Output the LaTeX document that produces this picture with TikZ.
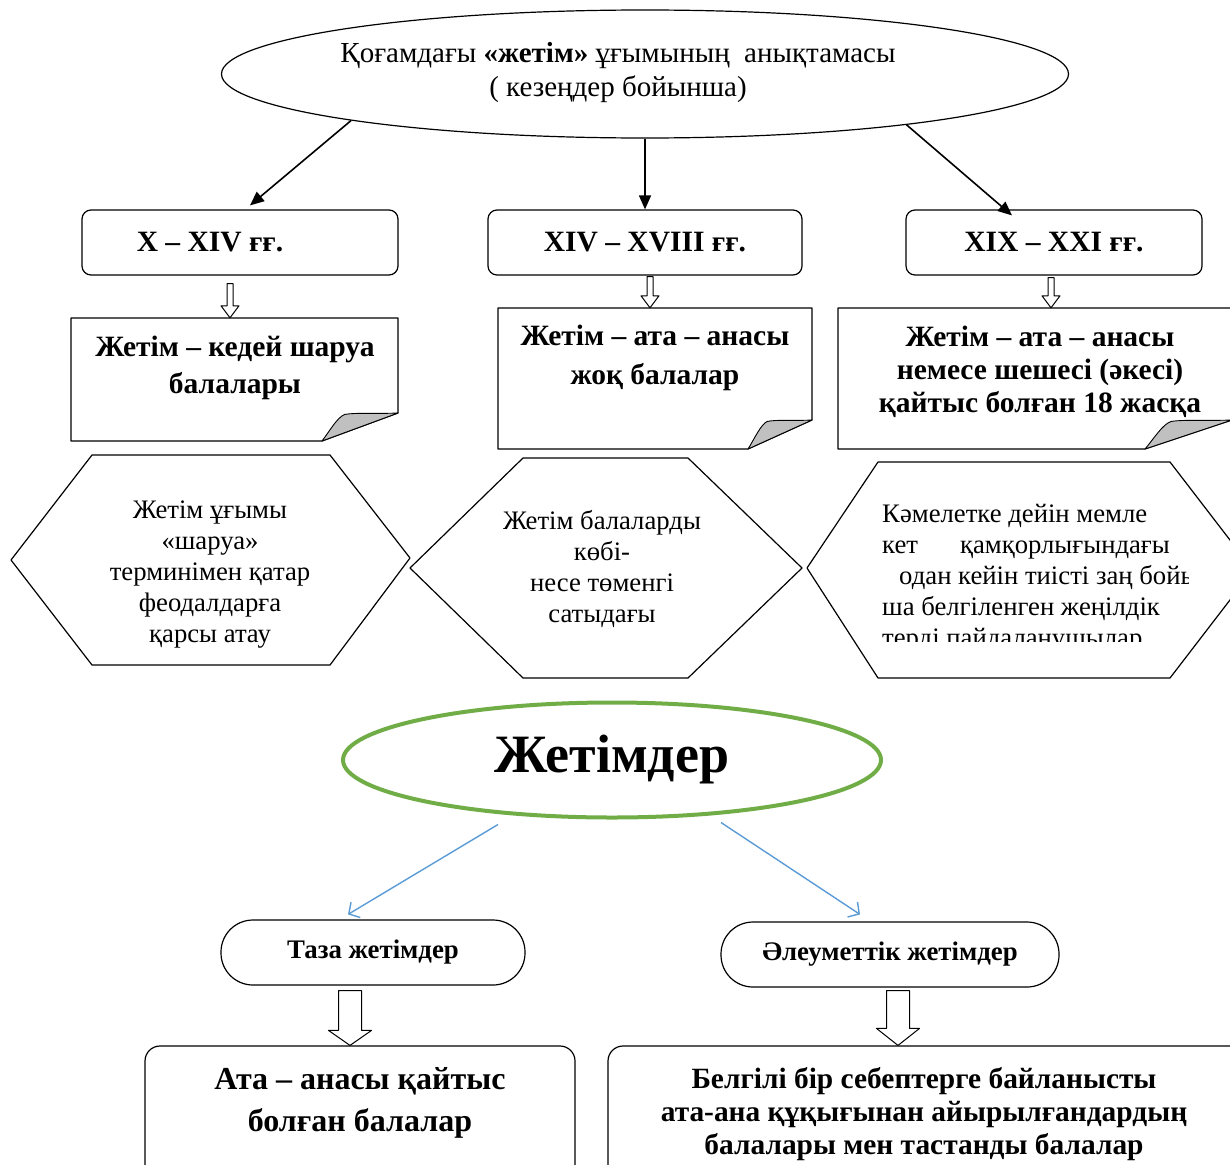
\documentclass[tikz,border=0pt]{standalone}
\usepackage{fontspec}
\setmainfont{Liberation Serif}
\usetikzlibrary{arrows.meta,shapes.geometric,calc}
\definecolor{zgreen}{RGB}{112,173,71}
\definecolor{zblue}{RGB}{91,155,213}
\definecolor{flapgray}{RGB}{192,192,192}
% hollow block arrow: from, to, half shaft, half head, head length
\newcommand\blockarr[5]{%
 \draw[blockarrow] let \p1=(#1), \p2=(#2) in
 (\x1-#3,\y1) -- (\x1+#3,\y1) -- (\x1+#3,\y2+#5) -- (\x1+#4,\y2+#5) -- (\x1,\y2)
 -- (\x1-#4,\y2+#5) -- (\x1-#3,\y2+#5) -- cycle;}
% note with folded corner: left, top, right, bottom, dx, dy
\newcommand\notebox[6]{%
 \draw[outline, fill=white] (#1,#2) -- (#3,#2) -- (#3,#4-#6) -- (#3-#5,#4) -- (#1,#4) -- cycle;
 \draw[outline, line width=0.9pt, fill=flapgray] (#3-#5,#4) -- (#3,#4-#6)
  .. controls (#3-0.3*#5,#4-#6+1) and (#3-0.55*#5,#4-1.02*#6) .. (#3-0.7*#5,#4-0.95*#6)
  .. controls (#3-0.8*#5,#4-0.85*#6) and (#3-0.9*#5,#4-0.35*#6) .. (#3-#5,#4) -- cycle;}
\begin{document}
\begin{tikzpicture}[x=1pt,y=-1pt,line join=round,
 outline/.style={draw=black,line width=1.2pt},
 rbox/.style={outline,rounded corners=9pt,fill=white,inner sep=0pt},
 pill/.style={outline,rounded corners=32pt,fill=white,inner sep=0pt,font=\fontsize{26.8}{30}\selectfont\bfseries},
 hdtxt/.style={font=\fontsize{29.5}{34}\selectfont\bfseries},
 notetxt/.style={align=center,inner sep=0pt},
 hextxt/.style={font=\fontsize{26.7}{31}\selectfont,inner sep=0pt},
 blk/.style={draw=black,line width=1.6pt,-{Triangle[length=14pt,width=12pt]}},
 blu/.style={draw=zblue,line width=1.4pt,-{Straight Barb[length=8pt,width=18pt,line width=1.4pt]}},
 blockarrow/.style={draw=black,line width=1pt,fill=white},
 hexa/.style={outline,fill=white}
]
\useasboundingbox (0,0) rectangle (1230,1164);
\clip (0,0) rectangle (1230,1164);

% top ellipse
\node[outline,ellipse,minimum width=847pt,minimum height=128pt,inner sep=0pt] (top) at (645,74) {};
\node[font=\fontsize{29}{34}\selectfont,align=center,inner sep=0pt] (toptxt) at (618,73)
 {Қоғамдағы \textbf{«жетім»} ұғымының\ \ анықтамасы\\( кезеңдер бойынша)};

% period boxes
\node[rbox,minimum width=316pt,minimum height=65pt] (b1) at (240,242.5) {};
\node[hdtxt,inner sep=0pt] (b1t) at (210,242) {X – XIV ғғ.};
\node[rbox,hdtxt,minimum width=314pt,minimum height=65pt] (b2) at (645,242.5) {XIV – XVIII ғғ.};
\node[rbox,hdtxt,minimum width=296pt,minimum height=65pt] (b3) at (1054,242.5) {XIX – XXI ғғ.};

\draw[blk] (top.189) -- ([xshift=10pt,yshift=4pt]b1.north);
\draw[blk] (top.south) -- (b2.north);
\draw[blk] (top.-11) -- ([xshift=-42pt,yshift=-6pt]b3.north);

% notes
\node[minimum width=327pt,minimum height=123pt,inner sep=0pt] (n1) at (234.5,379.5) {};
\node[minimum width=314pt,minimum height=141pt,inner sep=0pt] (n2) at (655,378.5) {};
\node[minimum width=394pt,minimum height=141pt,inner sep=0pt] (n3) at (1035,378.5) {};
\notebox{71}{318}{398}{441}{76}{28}
\notebox{498}{308}{812}{449}{64}{29}
\notebox{838}{308}{1232}{449}{87}{29}
\node[notetxt,font=\fontsize{29.5}{37}\selectfont\bfseries] (n1t) at (235,368) {Жетім – кедей шаруа\\балалары};
\node[notetxt,font=\fontsize{29.5}{39}\selectfont\bfseries] (n2t) at (655,358) {Жетім – ата – анасы\\жоқ балалар};
\node[notetxt,font=\fontsize{29.5}{33}\selectfont\bfseries] (n3t) at (1040,371.5) {Жетім – ата – анасы\\немесе шешесі (әкесі)\\қайтыс болған 18 жасқа};

\blockarr{[xshift=-10pt,yshift=-8pt]b1.south}{n1.north}{3}{9}{12}
\blockarr{[xshift=5pt,yshift=-1pt]b2.south}{n2.north}{3}{9}{12}
\blockarr{[xshift=-3pt,yshift=-2pt]b3.south}{n3.north}{3}{9}{12}

% hexagons
\draw[hexa] (11,560) -- (92,455) -- (330,455) -- (410,558) -- (330,665) -- (92,665) -- cycle;
\draw[hexa] (410,568) -- (523,458) -- (688,458) -- (802,568) -- (688,678) -- (523,678) -- cycle;
\draw[hexa] (807,568) -- (878,462) -- (1170,462) -- (1253,570) -- (1170,678) -- (878,678) -- cycle;
\node[hextxt,align=center] (h1) at (210,575) {Жетім ұғымы\\«шаруа»\\терминімен қатар\\феодалдарға\\қарсы атау};
\node[hextxt,align=center] (h2) at (602,569) {Жетім балаларды\\көбі-\\несе төменгі\\сатыдағы};
\begin{scope}
\clip (878,495) rectangle (1188,641);
\node[hextxt,align=left,anchor=west] (h3) at (882,578) {Кәмелетке дейін мемле\\кет\hspace{42pt}қамқорлығындағы\\\hspace*{17pt}одан кейін тиісті заң бойын\\ша белгіленген жеңілдік\\терді пайдаланушылар};
\end{scope}

% Zhetimder
\node[draw=zgreen,line width=4pt,ellipse,minimum width=538pt,minimum height=115pt,fill=white,inner sep=0pt,font=\fontsize{54}{60}\selectfont\bfseries] (zh) at (612,760) {Жетімдер};

\node[pill,minimum width=304pt,minimum height=65pt] (s1) at (373,952.5) {Таза жетімдер};
\node[pill,minimum width=338pt,minimum height=65pt] (s2) at (890,954.5) {Әлеуметтік жетімдер};

\draw[blu] ([xshift=-114pt,yshift=-5pt]zh.south) -- ([xshift=-25pt,yshift=5pt]s1.north);
\draw[blu] ([xshift=109pt,yshift=-3pt]zh.south) -- ([xshift=-30pt,yshift=7pt]s2.north);

% bottom boxes
\node[outline,rounded corners=15pt,minimum width=430pt,minimum height=144pt,inner sep=0pt] (c1) at (360,1118) {};
\node[outline,rounded corners=15pt,minimum width=637pt,minimum height=144pt,inner sep=0pt] (c2) at (926.5,1118) {};
\node[notetxt,font=\fontsize{32}{42}\selectfont\bfseries] (c1t) at (360,1103) {Ата – анасы қайтыс\\болған балалар};
\node[notetxt,font=\fontsize{29.4}{33}\selectfont\bfseries] (c2t) at (924,1114) {Белгілі бір себептерге байланысты\\ата-ана құқығынан айырылғандардың\\балалары мен тастанды балалар};

\blockarr{[xshift=-23pt,yshift=-5pt]s1.south}{c1.north}{11.5}{21.5}{15}
\blockarr{[xshift=8pt,yshift=-3pt]s2.south}{c2.north}{11.5}{21.5}{17}
\end{tikzpicture}
\end{document}
